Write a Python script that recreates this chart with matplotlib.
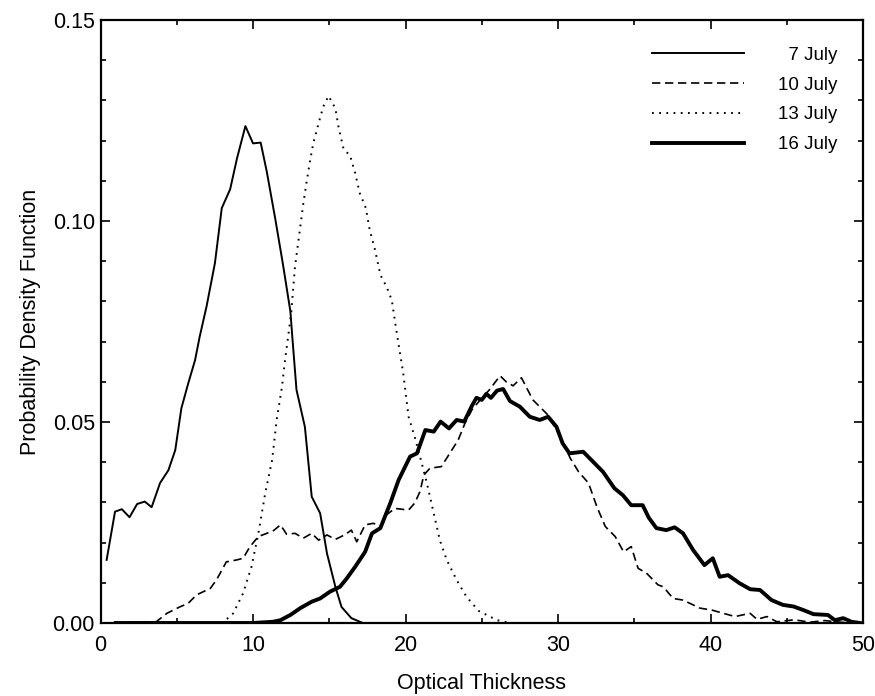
import numpy as np
import matplotlib
matplotlib.use('Agg')
import matplotlib.pyplot as plt
from matplotlib.ticker import MultipleLocator, FormatStrFormatter

plt.rcParams['font.family'] = ['Liberation Sans', 'DejaVu Sans']

# optical thickness (x) and pdf values (y)
tau_07 = [0.4, 0.95, 1.4, 1.9, 2.4, 2.9, 3.35, 3.9, 4.45, 4.9, 5.3, 5.75, 6.2, 6.5,
          6.95, 7.5, 7.95, 8.5, 8.95, 9.5, 10.0, 10.5, 10.9, 11.45, 11.95, 12.45,
          12.6, 12.85, 13.4, 13.85, 14.4, 14.85, 15.4, 15.8, 16.45, 17.2]
pdf_07 = [0.0157, 0.0277, 0.0283, 0.0263, 0.0296, 0.0302, 0.0288, 0.0348, 0.0380,
          0.0430, 0.0534, 0.0596, 0.0654, 0.0712, 0.0787, 0.0895, 0.1032, 0.1079,
          0.1156, 0.1236, 0.1193, 0.1195, 0.1123, 0.1007, 0.0895, 0.0775, 0.0700,
          0.0580, 0.0488, 0.0314, 0.0273, 0.0173, 0.0090, 0.0040, 0.0012, 0.0]

tau_10 = [1.0, 3.65, 4.35, 5.2, 5.75, 6.3, 7.2, 7.6, 8.25, 8.95, 9.35, 9.8, 10.35,
          10.9, 11.35, 11.8, 12.2, 12.75, 13.3, 13.85, 14.3, 14.85, 15.4, 16.0, 16.45,
          16.8, 17.35, 17.9, 18.35, 18.75, 19.3, 20.2, 20.6, 20.95, 21.2, 21.6, 22.35,
          22.9, 23.45, 23.9, 24.35, 24.9, 25.5, 26.2, 26.6, 27.05, 27.6, 28.35, 29.35,
          30.15, 30.8, 31.35, 32.0, 32.55, 33.1, 33.75, 34.3, 34.8, 35.25, 35.8, 36.55,
          36.9, 37.55, 38.2, 39.3, 40.1, 40.85, 41.6, 42.6, 43.05, 43.7, 44.35, 45.5,
          46.5, 47.5, 48.5, 49.5]
pdf_10 = [0.0, 0.0003, 0.0024, 0.0040, 0.0049, 0.0070, 0.0086, 0.0107, 0.0152, 0.0157,
          0.0161, 0.0190, 0.0215, 0.0223, 0.0230, 0.0244, 0.0221, 0.0223, 0.0211, 0.0223,
          0.0206, 0.0219, 0.0208, 0.0219, 0.0231, 0.0202, 0.0244, 0.0248, 0.0240, 0.0269,
          0.0285, 0.0281, 0.0298, 0.0327, 0.0368, 0.0385, 0.0389, 0.0422, 0.0455, 0.0497,
          0.0530, 0.0555, 0.0580, 0.0615, 0.0600, 0.0590, 0.0610, 0.0555, 0.0517, 0.0463,
          0.0410, 0.0376, 0.0348, 0.0289, 0.0240, 0.0215, 0.0177, 0.0190, 0.0136, 0.0124,
          0.0095, 0.0090, 0.0061, 0.0057, 0.0037, 0.0032, 0.0024, 0.0016, 0.0024, 0.0009,
          0.0016, 0.0003, 0.0008, 0.0002, 0.0006, 0.0002, 0.0]

tau_13 = [6.5, 8.0, 8.7, 9.35, 9.9, 10.35, 10.8, 11.25, 11.55, 11.9, 12.1, 12.5, 12.75,
          13.1, 13.3, 13.5, 13.75, 13.95, 14.3, 14.6, 14.95, 15.4, 15.6, 15.95, 16.35,
          16.7, 17.0, 17.4, 17.65, 18.0, 18.35, 18.75, 19.1, 19.45, 19.85, 20.2, 20.6,
          20.95, 21.4, 21.85, 22.25, 22.7, 23.35, 24.0, 24.8, 26.0, 26.9]
pdf_13 = [0.0, 0.0, 0.0024, 0.0074, 0.0140, 0.0223, 0.0323, 0.0405, 0.0505, 0.0588,
          0.0654, 0.0770, 0.0886, 0.0986, 0.1044, 0.1094, 0.1152, 0.1193, 0.1243, 0.1284,
          0.1311, 0.1280, 0.1235, 0.1177, 0.1164, 0.1119, 0.1069, 0.1032, 0.0978, 0.0928,
          0.0866, 0.0837, 0.0803, 0.0715, 0.0621, 0.0513, 0.0463, 0.0414, 0.0348, 0.0273,
          0.0206, 0.0157, 0.0107, 0.0065, 0.0030, 0.0007, 0.0]

tau_16 = [1.0, 10.0, 11.3, 11.8, 12.45, 13.1, 13.85, 14.4, 15.05, 15.7, 16.15, 16.7,
          17.35, 17.8, 18.35, 19.0, 19.55, 20.3, 20.75, 21.3, 21.85, 22.3, 22.85, 23.35,
          23.85, 24.35, 24.65, 25.0, 25.3, 25.6, 26.0, 26.4, 26.85, 27.5, 28.15, 28.8,
          29.35, 29.9, 30.3, 30.75, 31.65, 32.3, 32.95, 33.7, 34.25, 34.8, 35.55, 35.95,
          36.45, 37.1, 37.65, 38.2, 38.85, 39.6, 40.15, 40.6, 41.15, 41.9, 42.6, 43.25,
          44.0, 44.75, 45.45, 46.1, 46.75, 47.7, 48.15, 48.7, 49.25, 49.8]
pdf_16 = [0.0, 0.0, 0.0003, 0.0007, 0.0020, 0.0037, 0.0053, 0.0061, 0.0078, 0.0090,
          0.0111, 0.0140, 0.0177, 0.0223, 0.0236, 0.0298, 0.0356, 0.0414, 0.0422, 0.0480,
          0.0476, 0.0501, 0.0484, 0.0505, 0.0501, 0.0540, 0.0560, 0.0555, 0.0570, 0.0560,
          0.0578, 0.0582, 0.0552, 0.0538, 0.0513, 0.0505, 0.0513, 0.0488, 0.0447, 0.0422,
          0.0426, 0.0401, 0.0376, 0.0335, 0.0318, 0.0293, 0.0293, 0.0262, 0.0236, 0.0231,
          0.0238, 0.0223, 0.0182, 0.0144, 0.0161, 0.0115, 0.0119, 0.0099, 0.0084, 0.0082,
          0.0057, 0.0045, 0.0041, 0.0032, 0.0022, 0.0020, 0.0007, 0.0012, 0.0003, 0.0]

# figure space keeps "7 July" right-aligned with the others
labels = ['\u20077 July', '10 July', '13 July', '16 July']

fig = plt.figure(figsize=(8.75, 6.96), dpi=100)
ax = fig.add_axes([0.1149, 0.1049, 0.8714, 0.8664])

ax.plot(tau_07, pdf_07, color='black', lw=1.4, label=labels[0])
ax.plot(tau_10, pdf_10, color='black', lw=1.2, dashes=(5, 2.8), label=labels[1])
ax.plot(tau_13, pdf_13, color='black', lw=1.4, dashes=(0.9, 2.8), label=labels[2])
ax.plot(tau_16, pdf_16, color='black', lw=2.8, label=labels[3])

ax.set_xlim(0, 50)
ax.set_ylim(0, 0.15)
ax.xaxis.set_major_locator(MultipleLocator(10))
ax.xaxis.set_minor_locator(MultipleLocator(5))
ax.yaxis.set_major_locator(MultipleLocator(0.05))
ax.yaxis.set_minor_locator(MultipleLocator(0.01))
ax.yaxis.set_major_formatter(FormatStrFormatter('%.2f'))

ax.tick_params(which='both', direction='in', top=True, right=True, width=1.2,
               labelsize=15.5)
ax.tick_params(which='major', length=6.5)
ax.tick_params(which='minor', length=3.5)
ax.tick_params(axis='x', pad=9)
ax.tick_params(axis='y', pad=4)
for sp in ax.spines.values():
    sp.set_linewidth(1.6)

ax.set_xlabel('Optical Thickness', fontsize=15.5, labelpad=12)
ax.set_ylabel('Probability Density Function', fontsize=15.5, labelpad=8)

leg = ax.legend(loc='upper right', bbox_to_anchor=(0.966, 0.956), frameon=False,
                fontsize=13.5, handlelength=4.9, handletextpad=1.8,
                labelspacing=0.68, borderpad=0, borderaxespad=0)

fig.savefig('out.png', dpi=100)
